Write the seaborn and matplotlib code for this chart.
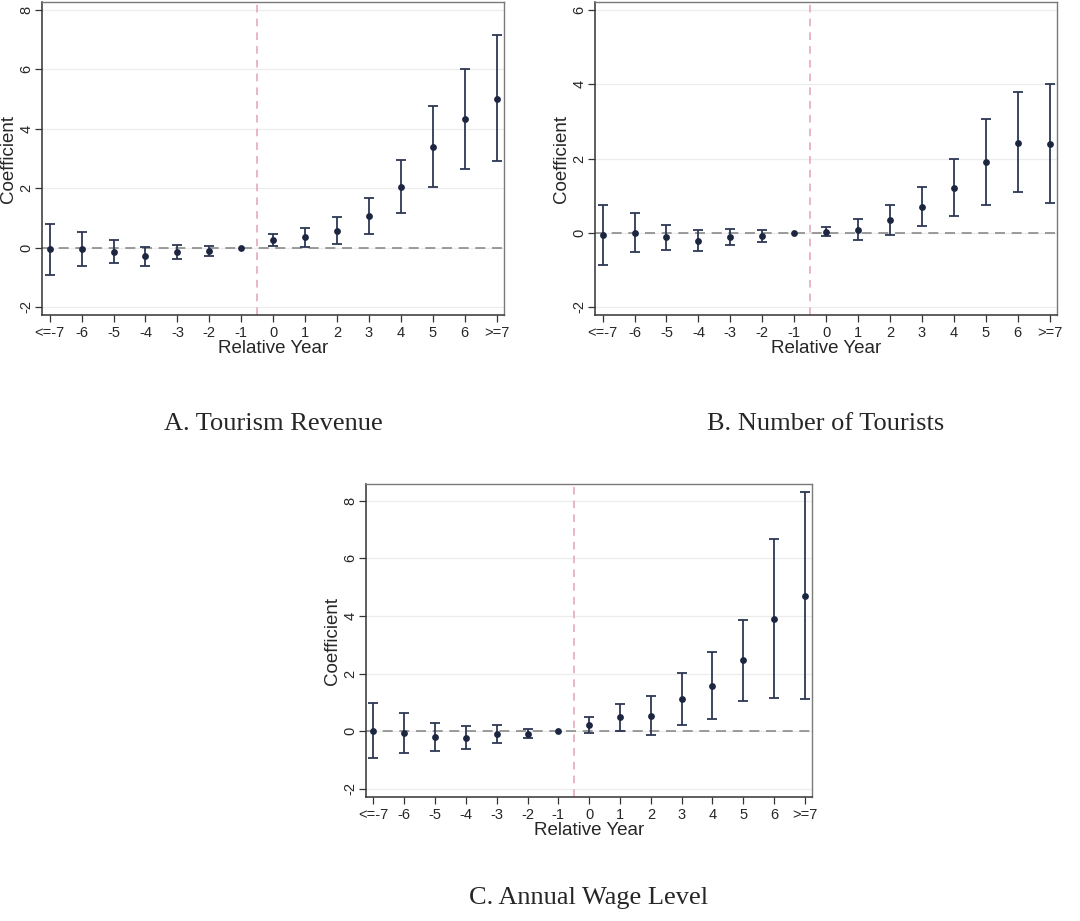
import numpy as np
import pandas as pd
import seaborn as sns
import matplotlib.pyplot as plt

sns.set_style("ticks")
plt.rcParams['font.family'] = ['Liberation Sans', 'DejaVu Sans']

years = list(range(-7, 8))
year_labels = ["<=-7", "-6", "-5", "-4", "-3", "-2", "-1",
               "0", "1", "2", "3", "4", "5", "6", ">=7"]

# A. tourism revenue
rev_coef = [-0.06, -0.04, -0.16, -0.30, -0.16, -0.12, 0.0, 0.26, 0.34, 0.57, 1.05, 2.04, 3.39, 4.33, 5.02]
rev_lo = [-0.92, -0.62, -0.53, -0.62, -0.40, -0.29, np.nan, 0.07, 0.02, 0.11, 0.46, 1.16, 2.03, 2.65, 2.90]
rev_hi = [0.80, 0.54, 0.24, 0.01, 0.08, 0.04, np.nan, 0.45, 0.66, 1.03, 1.67, 2.94, 4.77, 6.03, 7.16]

# B. number of tourists
tour_coef = [-0.07, 0.0, -0.13, -0.22, -0.13, -0.10, 0.0, 0.03, 0.08, 0.33, 0.70, 1.21, 1.90, 2.43, 2.40]
tour_lo = [-0.88, -0.52, -0.47, -0.49, -0.34, -0.25, np.nan, -0.10, -0.19, -0.07, 0.18, 0.45, 0.75, 1.09, 0.81]
tour_hi = [0.75, 0.54, 0.22, 0.06, 0.11, 0.08, np.nan, 0.16, 0.38, 0.74, 1.22, 1.99, 3.07, 3.80, 4.00]

# C. annual wage level
wage_coef = [0.02, -0.06, -0.21, -0.23, -0.10, -0.08, 0.0, 0.21, 0.50, 0.54, 1.11, 1.57, 2.46, 3.90, 4.70]
wage_lo = [-0.91, -0.74, -0.69, -0.62, -0.42, -0.22, np.nan, -0.06, 0.02, -0.14, 0.21, 0.42, 1.05, 1.14, 1.11]
wage_hi = [0.97, 0.62, 0.27, 0.17, 0.21, 0.08, np.nan, 0.49, 0.96, 1.22, 2.02, 2.75, 3.87, 6.66, 8.28]

navy = "#1c2641"
bar_col = "#2d3854"

fig = plt.figure(figsize=(10.8, 9.21), dpi=100)
ax_a = fig.add_axes([0.0389, 0.658, 0.4278, 0.3398])
ax_b = fig.add_axes([0.5509, 0.658, 0.4278, 0.3398])
ax_c = fig.add_axes([0.3389, 0.1346, 0.413, 0.3398])


def event_plot(ax, coef, lo, hi, ylim, yticks):
    df = pd.DataFrame({"year": years, "coef": coef, "lo": lo, "hi": hi})
    for t in yticks:
        ax.axhline(t, color="#ececec", lw=0.9, zorder=0)
    ax.axhline(0, color="#8a8a8a", lw=1.2, ls=(0, (6, 4)), zorder=1)
    ax.axvline(-0.5, color="#e4a3b3", lw=1.1, ls=(0, (5, 4)), zorder=1)
    ci = df.dropna()
    ax.errorbar(ci["year"], ci["coef"],
                yerr=[ci["coef"] - ci["lo"], ci["hi"] - ci["coef"]],
                fmt="none", ecolor=bar_col, elinewidth=1.3, capsize=3.5,
                capthick=1.3, zorder=2)
    sns.scatterplot(data=df, x="year", y="coef", ax=ax, color=navy,
                    s=24, edgecolor=navy, linewidth=0, zorder=3)
    ax.set_xlim(-7.24, 7.23)
    ax.set_ylim(*ylim)
    ax.set_xticks(years)
    ax.set_xticklabels(year_labels)
    ax.set_yticks(yticks)
    ax.set_yticklabels([str(t) for t in yticks], rotation=90, va="center")
    ax.tick_params(axis="both", labelsize=10.5, length=5, width=0.9,
                   color="#333333", direction="out")
    ax.tick_params(axis="x", pad=3)
    ax.tick_params(axis="y", pad=1)
    ax.set_xlabel("Relative Year", fontsize=13.5, labelpad=0)
    ax.set_ylabel("Coefficient", fontsize=13.5, labelpad=2)
    for side in ["left", "bottom"]:
        ax.spines[side].set_color("#333333")
        ax.spines[side].set_linewidth(1.1)
    for side in ["top", "right"]:
        ax.spines[side].set_color("#7a7a7a")
        ax.spines[side].set_linewidth(1.0)
    return ax.get_position()


pa = event_plot(ax_a, rev_coef, rev_lo, rev_hi, (-2.27, 8.27), [-2, 0, 2, 4, 6, 8])
pb = event_plot(ax_b, tour_coef, tour_lo, tour_hi, (-2.22, 6.22), [-2, 0, 2, 4, 6])
pc = event_plot(ax_c, wage_coef, wage_lo, wage_hi, (-2.28, 8.57), [-2, 0, 2, 4, 6, 8])

cap_font = dict(fontsize=19, family=["Liberation Serif", "DejaVu Serif"],
                ha="center", va="center")
fig.text((pa.x0 + pa.x1) / 2, 1 - 424 / 921, "A. Tourism Revenue", **cap_font)
fig.text((pb.x0 + pb.x1) / 2, 1 - 424 / 921, "B. Number of Tourists", **cap_font)
fig.text((pc.x0 + pc.x1) / 2, 1 - 898 / 921, "C. Annual Wage Level", **cap_font)

fig.savefig("out.png", dpi=100, facecolor="white")
